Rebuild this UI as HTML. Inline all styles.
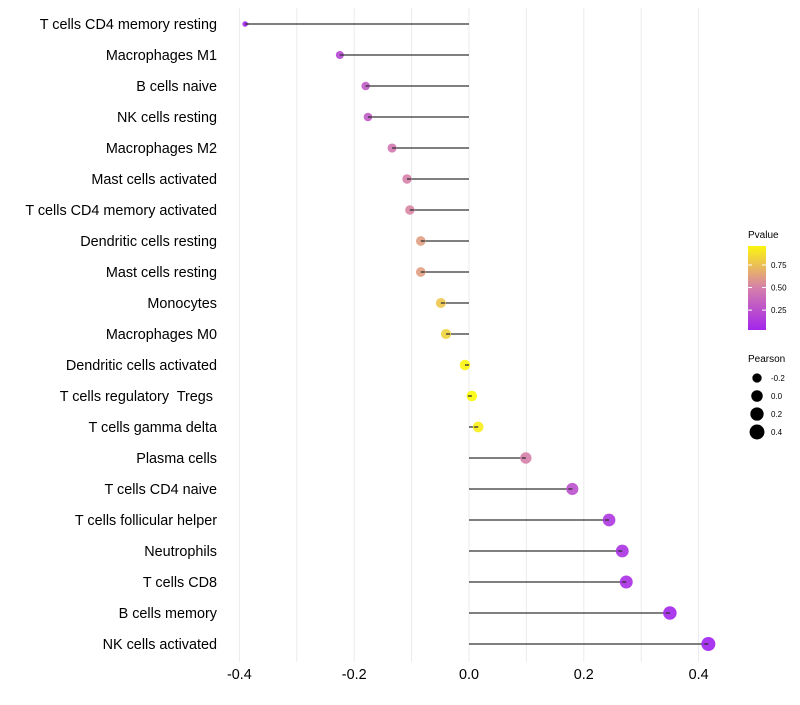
<!DOCTYPE html>
<html><head><meta charset="utf-8"><style>
body{margin:0;background:#fff;font-family:"Liberation Sans",sans-serif;}
svg text{font-family:"Liberation Sans",sans-serif;white-space:pre;}
</style></head><body>
<svg id="c" width="800" height="700"></svg>
<script>
const categories=["T cells CD4 memory resting","Macrophages M1","B cells naive","NK cells resting","Macrophages M2","Mast cells activated","T cells CD4 memory activated","Dendritic cells resting","Mast cells resting","Monocytes","Macrophages M0","Dendritic cells activated","T cells regulatory  Tregs ","T cells gamma delta","Plasma cells","T cells CD4 naive","T cells follicular helper","Neutrophils","T cells CD8","B cells memory","NK cells activated"];
const pearson=[-0.390,-0.225,-0.180,-0.176,-0.134,-0.108,-0.103,-0.084,-0.084,-0.049,-0.040,-0.007,0.005,0.016,0.099,0.180,0.244,0.267,0.274,0.350,0.417];
const pvalue=[0.02,0.2,0.3,0.3,0.45,0.5,0.52,0.62,0.62,0.78,0.82,0.96,0.98,0.93,0.5,0.25,0.12,0.1,0.08,0.03,0.01];
const xTicks=[-0.4,-0.2,0.0,0.2,0.4];
const xMinor=[-0.3,-0.1,0.1,0.3];
const pTicks=[0.25,0.5,0.75];
const sizeTicks=[-0.2,0.0,0.2,0.4];

const NS="http://www.w3.org/2000/svg";
const svg=document.getElementById('c');
function el(t,a,p){const e=document.createElementNS(NS,t);for(const k in a)e.setAttribute(k,a[k]);(p||svg).appendChild(e);return e;}
const x=v=>469+v*574;
const y=i=>24+i*31;
const rad=v=>Math.sqrt(Math.max(2.2,27.6+51.4*v));
function col(p){const a=[160,32,240],b=[255,255,0],m=[214,128,170];let c;
 if(p<0.5){const t=p/0.5;c=a.map((v,i)=>v+(m[i]-v)*t);}else{const t=(p-0.5)/0.5;c=m.map((v,i)=>v+(b[i]-v)*t);}
 return `rgb(${c.map(Math.round).join(',')})`;}

const grid=el('g',{});


xTicks.concat(xMinor).forEach(v=>{const l=el('line',{x1:x(v),x2:x(v),y1:8,y2:662,stroke:'#ebebeb','stroke-width':1},grid);
});

xTicks.forEach(v=>{const t=el('text',{x:x(v),y:679,'text-anchor':'middle','font-size':14.4,fill:'#000'});t.textContent=v.toFixed(1);
});

categories.forEach((c,i)=>{
 const t=el('text',{x:217,y:y(i)+5,'text-anchor':'end','font-size':14.4,fill:'#000','xml:space':'preserve'});t.textContent=c;
 
 const l=el('line',{x1:x(0),x2:x(pearson[i]),y1:y(i),y2:y(i),stroke:'#333','stroke-width':1.3});
 
 const d=el('circle',{cx:x(pearson[i]),cy:y(i),r:rad(pearson[i]),fill:col(pvalue[i]),'fill-opacity':0.9});
 
 const dir=pearson[i]<0?1:-1;
 const l2=el('line',{x1:x(pearson[i])+dir*4,x2:x(pearson[i]),y1:y(i),y2:y(i),stroke:'#333','stroke-width':1.3});
 
});

const t1=el('text',{x:748,y:238,'font-size':10});t1.textContent='Pvalue';

const defs=el('defs',{});const g=el('linearGradient',{id:'pg',x1:0,y1:1,x2:0,y2:0},defs);
[0,0.25,0.5,0.75,1].forEach(o=>el('stop',{offset:o,'stop-color':col(0.03+o*0.93)},g));
const bar=el('rect',{x:748,y:246,width:18,height:84,fill:'url(#pg)'});

const py=p=>330-(p-0.03)/0.93*84;
pTicks.forEach(p=>{el('line',{x1:748,x2:752,y1:py(p),y2:py(p),stroke:'#fff'});el('line',{x1:762,x2:766,y1:py(p),y2:py(p),stroke:'#fff'});
 const t=el('text',{x:771,y:py(p)+3,'font-size':8});t.textContent=p.toFixed(2);
 });
const t2=el('text',{x:748,y:362,'font-size':10});t2.textContent='Pearson';

sizeTicks.forEach((v,i)=>{const cy=378+i*18;
 const d=el('circle',{cx:757,cy:cy,r:rad(v)+0.5,fill:'#000'});
 
 const t=el('text',{x:771,y:cy+3,'font-size':8});t.textContent=v.toFixed(1);
 });
</script>
</body></html>
